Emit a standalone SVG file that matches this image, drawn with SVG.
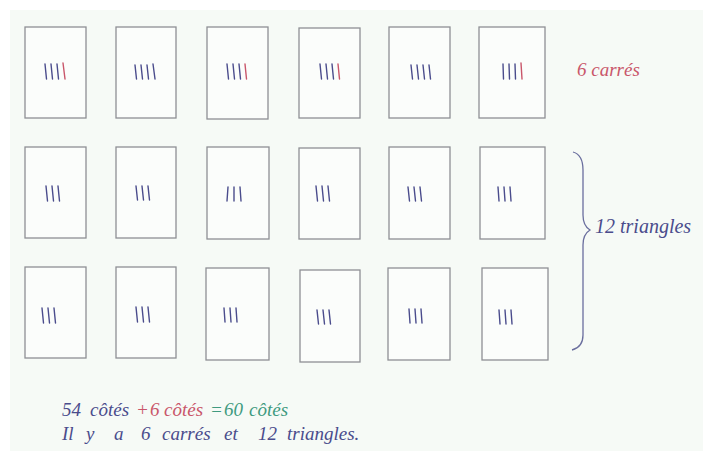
<svg xmlns="http://www.w3.org/2000/svg" width="703" height="451" viewBox="0 0 703 451">
<style>
.box{fill:#fbfdfb;stroke:#8e9094;stroke-width:1.3}
.t{stroke:#4a4c8c;stroke-width:1.4;stroke-linecap:round;fill:none}
.r{stroke:#c9566a}
.hw{font-family:"Liberation Serif","DejaVu Serif",serif;font-style:italic}
.blue{fill:#4a4c8c}
.red{fill:#c9566a}
.green{fill:#3f9a80}
</style>
<rect x="0" y="0" width="703" height="451" fill="#ffffff"/>
<rect x="10" y="10" width="693" height="441" fill="#f6faf6"/>

<g id="row1">
<g id="c1"><rect class="box" x="25" y="27" width="61" height="91"/><path class="t" d="M45,64l1.5,15M51,64l1.5,15M57,64l1.5,15"/><path class="t r" d="M63,63l2,16"/></g>
<g id="c2"><rect class="box" x="116" y="27" width="60" height="91"/><path class="t" d="M135,65l1.5,14M141,65l1.5,14M147,65l1.5,14M153,64l2,15"/></g>
<g id="c3"><rect class="box" x="207" y="27" width="61" height="92"/><path class="t" d="M227,64l1.5,15M233,64l1.5,15M239,64l1.5,15"/><path class="t r" d="M245,64l1.5,15"/></g>
<g id="c4"><rect class="box" x="299" y="28" width="61" height="90"/><path class="t" d="M320,64l1.5,15M326,64l1.5,15M332,64l1.5,15"/><path class="t r" d="M338,64l1.5,15"/></g>
<g id="c5"><rect class="box" x="389" y="27" width="61" height="91"/><path class="t" d="M411,65l1.5,14M417,65l1.5,14M423,65l1.5,14M429,65l1.5,14"/></g>
<g id="c6"><rect class="box" x="479" y="27" width="66" height="91"/><path class="t" d="M503,64l0.5,15M509,64l0.5,15M515,64l0.5,15"/><path class="t r" d="M521,63l1,16"/></g>
</g>

<g id="row2">
<g id="c7"><rect class="box" x="25" y="147" width="61" height="91"/><path class="t" d="M46,186l1.5,15M52,186l1.5,15M58,186l1.5,15"/></g>
<g id="c8"><rect class="box" x="116" y="147" width="60" height="91"/><path class="t" d="M136,186l1.5,14M142,186l1.5,14M148,186l1.5,14"/></g>
<g id="c9"><rect class="box" x="207" y="147" width="62" height="92"/><path class="t" d="M228,187l-1,14M234,187l0,14M240,187l1,14"/></g>
<g id="c10"><rect class="box" x="299" y="148" width="61" height="91"/><path class="t" d="M316,186l1.5,15M322,186l1.5,15M328,186l1.5,15"/></g>
<g id="c11"><rect class="box" x="389" y="147" width="61" height="92"/><path class="t" d="M408,187l1.5,14M414,187l1.5,14M420,187l1.5,14"/></g>
<g id="c12"><rect class="box" x="480" y="147" width="65" height="92"/><path class="t" d="M498,187l1,14M504,187l1,14M510,187l1,14"/></g>
</g>

<g id="row3">
<g id="c13"><rect class="box" x="25" y="267" width="61" height="91"/><path class="t" d="M42,308l1.5,15M48,308l1.5,15M54,308l1.5,15"/></g>
<g id="c14"><rect class="box" x="116" y="267" width="60" height="91"/><path class="t" d="M136,307l1.5,15M142,307l1.5,15M148,307l1.5,15"/></g>
<g id="c15"><rect class="box" x="206" y="268" width="63" height="92"/><path class="t" d="M224,308l1,14M230,308l1,14M236,308l1,14"/></g>
<g id="c16"><rect class="box" x="300" y="270" width="60" height="92"/><path class="t" d="M317,310l1.5,14M323,310l1.5,14M329,310l1.5,14"/></g>
<g id="c17"><rect class="box" x="388" y="268" width="62" height="92"/><path class="t" d="M409,309l1,14M415,309l1,14M421,309l1,14"/></g>
<g id="c18"><rect class="box" x="482" y="268" width="66" height="92"/><path class="t" d="M499,310l1,14M505,310l1,14M511,310l1,14"/></g>
</g>

<g id="connectors">
<path d="M573,152 C580,154 583,160 583,170 L583,215 C583,222 585,227 590,230 C585,233 583,238 583,245 L583,335 C583,343 580,348 572,350" fill="none" stroke="#6a6e9e" stroke-width="1.3"/>
</g>

<g id="labels">
<text class="hw red" x="577" y="76" font-size="19">6 carrés</text>
<text class="hw blue" x="595" y="233" font-size="20">12 triangles</text>
<text class="hw" y="416" font-size="19"><tspan class="blue" x="62">54</tspan><tspan class="blue" x="90">côtés</tspan><tspan class="red" x="136">+</tspan><tspan class="red" x="150">6</tspan><tspan class="red" x="164">côtés</tspan><tspan class="green" x="210">=</tspan><tspan class="green" x="224">60</tspan><tspan class="green" x="249">côtés</tspan></text>
<text class="hw blue" y="440" font-size="19"><tspan x="62">Il</tspan><tspan x="86">y</tspan><tspan x="114">a</tspan><tspan x="141">6</tspan><tspan x="162">carrés</tspan><tspan x="224">et</tspan><tspan x="258">12</tspan><tspan x="287">triangles.</tspan></text>
</g>
</svg>
